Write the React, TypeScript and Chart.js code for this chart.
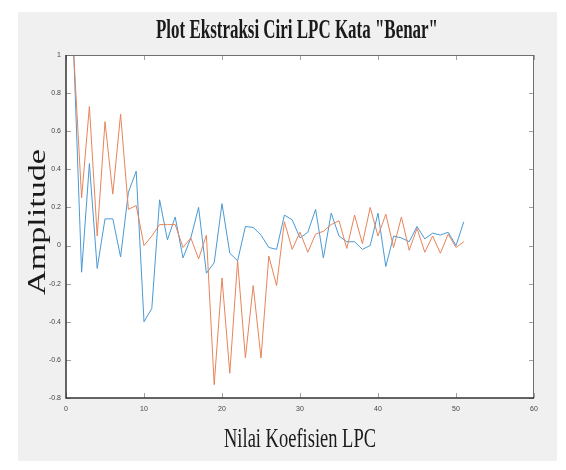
import React, { useEffect, useRef } from "react";
import { Chart, registerables } from "chart.js";

Chart.register(...registerables);

// ---------- data ----------
const coefIndex = [
  1, 2, 3, 4, 5, 6, 7, 8, 9, 10, 11, 12, 13, 14, 15, 16, 17, 18, 19, 20, 21, 22, 23, 24, 25, 26,
  27, 28, 29, 30, 31, 32, 33, 34, 35, 36, 37, 38, 39, 40, 41, 42, 43, 44, 45, 46, 47, 48, 49, 50, 51,
];

const seriesBlue = [
  1.0, -0.14, 0.43, -0.12, 0.14, 0.14, -0.06, 0.28, 0.39, -0.4, -0.33, 0.24, 0.03, 0.15, -0.065,
  0.04, 0.2, -0.145, -0.09, 0.22, -0.04, -0.08, 0.1, 0.095, 0.055, -0.01, -0.02, 0.16, 0.135, 0.04,
  0.07, 0.19, -0.065, 0.17, 0.05, 0.02, 0.02, -0.02, 0.0, 0.17, -0.11, 0.05, 0.04, 0.02, 0.1, 0.035,
  0.065, 0.055, 0.07, 0.0, 0.125,
];

const seriesOrange = [
  1.0, 0.25, 0.73, 0.05, 0.65, 0.27, 0.69, 0.19, 0.21, 0.0, 0.05, 0.11, 0.11, 0.11, -0.01, 0.04,
  -0.07, 0.055, -0.73, -0.17, -0.67, -0.08, -0.59, -0.21, -0.59, -0.055, -0.21, 0.125, -0.02, 0.07,
  -0.035, 0.06, 0.075, 0.11, 0.13, -0.015, 0.16, 0.01, 0.2, 0.05, 0.165, -0.01, 0.15, -0.025, 0.09,
  -0.035, 0.05, -0.04, 0.06, -0.01, 0.02,
];

const xTicks = [0, 10, 20, 30, 40, 50, 60];
const yTicks = [-0.8, -0.6, -0.4, -0.2, 0, 0.2, 0.4, 0.6, 0.8, 1];

const titleText = 'Plot Ekstraksi Ciri LPC Kata "Benar"';
const xLabelText = "Nilai Koefisien LPC";
const yLabelText = "Amplitude";

// ---------- layout / style ----------
const W = 566;
const H = 470;
const BLUE = "#4a9ad6";
const ORANGE = "#e8845a";

function drawFitted(
  ctx: CanvasRenderingContext2D,
  text: string,
  cx: number,
  cy: number,
  targetWidth: number,
  font: string,
  rotate: boolean
) {
  ctx.save();
  ctx.translate(cx, cy);
  if (rotate) ctx.rotate(-Math.PI / 2);
  ctx.font = font;
  const w = ctx.measureText(text).width;
  ctx.scale(targetWidth / w, 1);
  ctx.textAlign = "center";
  ctx.textBaseline = "middle";
  ctx.fillStyle = "#1a1a1a";
  ctx.fillText(text, 0, 0);
  ctx.restore();
}

const framePlugin = {
  id: "matlabFrame",
  beforeDraw(chart: any) {
    const { ctx, chartArea } = chart;
    ctx.save();
    ctx.fillStyle = "#ffffff";
    ctx.fillRect(0, 0, W, H);
    ctx.fillStyle = "#f0f0f0";
    ctx.fillRect(18, 12, 539, 449);
    ctx.fillStyle = "#ffffff";
    ctx.fillRect(chartArea.left, chartArea.top, chartArea.right - chartArea.left, chartArea.bottom - chartArea.top);
    ctx.restore();
  },
  afterDraw(chart: any) {
    const { ctx, chartArea } = chart;
    const xs = chart.scales.x;
    const ys = chart.scales.y;
    const { left, right, top, bottom } = chartArea;
    ctx.save();
    // inward tick marks on all four sides
    ctx.strokeStyle = "#a0a0a0";
    ctx.lineWidth = 1;
    ctx.beginPath();
    xTicks.forEach((v) => {
      const px = Math.round(xs.getPixelForValue(v)) + 0.5;
      ctx.moveTo(px, bottom);
      ctx.lineTo(px, bottom - 5);
      ctx.moveTo(px, top);
      ctx.lineTo(px, top + 5);
    });
    yTicks.forEach((v) => {
      const py = Math.round(ys.getPixelForValue(v)) + 0.5;
      ctx.moveTo(left, py);
      ctx.lineTo(left + 5, py);
      ctx.moveTo(right, py);
      ctx.lineTo(right - 5, py);
    });
    ctx.stroke();
    // box
    ctx.strokeStyle = "#707070";
    ctx.lineWidth = 1;
    ctx.beginPath();
    ctx.moveTo(left, top + 0.5);
    ctx.lineTo(right, top + 0.5);
    ctx.moveTo(right - 0.5, top);
    ctx.lineTo(right - 0.5, bottom);
    ctx.stroke();
    ctx.strokeStyle = "#333333";
    ctx.lineWidth = 1.5;
    ctx.beginPath();
    ctx.moveTo(left, top);
    ctx.lineTo(left, bottom);
    ctx.lineTo(right, bottom);
    ctx.stroke();
    ctx.restore();

    drawFitted(ctx, titleText, 297, 31, 282, "bold 28px 'Liberation Serif'", false);
    drawFitted(ctx, xLabelText, 300, 440, 152, "27px 'Liberation Serif'", false);
    drawFitted(ctx, yLabelText, 38, 222, 146, "25px 'Liberation Serif'", true);
  },
};

export default function App() {
  const canvasRef = useRef<HTMLCanvasElement | null>(null);

  useEffect(() => {
    const canvas = canvasRef.current;
    if (!canvas) return;
    const chart = new Chart(canvas, {
      type: "line",
      data: {
        datasets: [
          {
            label: "Sinyal 1",
            data: coefIndex.map((x, i) => ({ x, y: seriesBlue[i] })),
            borderColor: BLUE,
            borderWidth: 1,
            pointRadius: 0,
            tension: 0,
            order: 2,
          },
          {
            label: "Sinyal 2",
            data: coefIndex.map((x, i) => ({ x, y: seriesOrange[i] })),
            borderColor: ORANGE,
            borderWidth: 1,
            pointRadius: 0,
            tension: 0,
            order: 1,
          },
        ],
      },
      options: {
        animation: false,
        responsive: false,
        devicePixelRatio: 1,
        layout: { padding: { left: 20, right: 32, top: 55, bottom: 52 } },
        plugins: {
          legend: { display: false },
          tooltip: { enabled: false },
          title: { display: false },
        },
        scales: {
          x: {
            type: "linear",
            min: 0,
            max: 60,
            afterFit: (scale: any) => {
              scale.height = 20;
            },
            afterBuildTicks: (scale: any) => {
              scale.ticks = xTicks.map((v) => ({ value: v }));
            },
            grid: { display: false, drawTicks: false },
            border: { display: false },
            ticks: {
              padding: 7,
              color: "#444",
              font: { family: "'Liberation Sans'", size: 7 },
              callback: (v: any) => String(v),
            },
          },
          y: {
            type: "linear",
            min: -0.8,
            max: 1,
            afterFit: (scale: any) => {
              scale.width = 46;
            },
            afterBuildTicks: (scale: any) => {
              scale.ticks = yTicks.map((v) => ({ value: v }));
            },
            grid: { display: false, drawTicks: false },
            border: { display: false },
            ticks: {
              padding: 5,
              color: "#444",
              font: { family: "'Liberation Sans'", size: 7 },
              callback: (v: any) => String(Number(Number(v).toFixed(1))),
            },
          },
        },
      },
      plugins: [framePlugin],
    });
    return () => chart.destroy();
  }, []);

  return (
    <div style={{ position: "fixed", left: 0, top: 0, width: W, height: H, background: "#fff" }}>
      <canvas ref={canvasRef} width={W} height={H} style={{ display: "block" }} />
    </div>
  );
}
